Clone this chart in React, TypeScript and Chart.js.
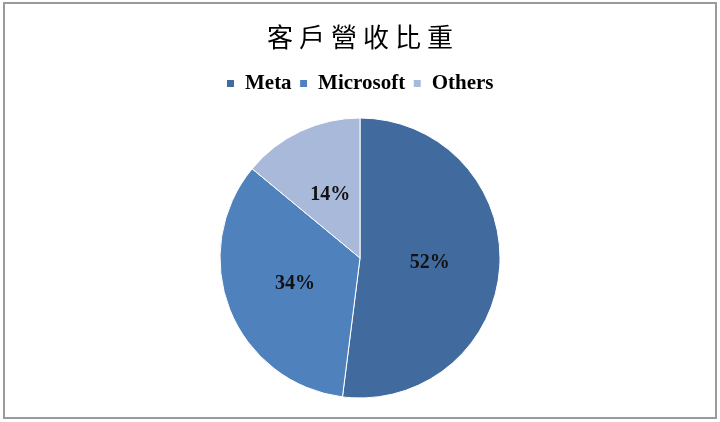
import React, { useEffect, useRef } from "react";
import { Chart, registerables } from "chart.js";

Chart.register(...registerables);

const TITLE = "客戶營收比重";
const categories = ["Meta", "Microsoft", "Others"];
const shares = [52, 34, 14];
const sliceColors = ["#416a9e", "#4f81bd", "#a9b9d9"];

const sliceLabelPlugin = {
  id: "sliceLabels",
  afterDatasetsDraw(chart: any) {
    const ctx = chart.ctx;
    const meta = chart.getDatasetMeta(0);
    const data = chart.data.datasets[0].data as number[];
    const total = data.reduce((a, b) => a + b, 0);
    ctx.save();
    ctx.font = "bold 20px 'Liberation Serif'";
    ctx.fillStyle = "#111";
    ctx.textAlign = "center";
    ctx.textBaseline = "middle";
    meta.data.forEach((arc: any, i: number) => {
      const p = arc.getCenterPoint();
      ctx.fillText(Math.round((data[i] / total) * 100) + "%", p.x, p.y);
    });
    ctx.restore();
  },
};

export default function App() {
  const ref = useRef<HTMLCanvasElement | null>(null);

  useEffect(() => {
    if (!ref.current) return;
    const chart = new Chart(ref.current, {
      type: "pie",
      data: {
        labels: categories,
        datasets: [
          {
            data: shares,
            backgroundColor: sliceColors,
            borderColor: "#ffffff",
            borderWidth: 1,
            radius: 140,
          } as any,
        ],
      },
      options: {
        responsive: false,
        animation: false,
        layout: { padding: { top: 65, bottom: 10, left: 0, right: 0 } },
        plugins: {
          title: { display: false },
          tooltip: { enabled: false },
          legend: {
            display: true,
            position: "top",
            labels: {
              boxWidth: 8,
              boxHeight: 8,
              padding: 8,
              color: "#000",
              font: { family: "'Liberation Serif'", size: 21, weight: "bold" },
            },
          },
        },
      } as any,
      plugins: [sliceLabelPlugin],
    });
    return () => chart.destroy();
  }, []);

  return (
    <div
      style={{
        position: "fixed",
        left: 0,
        top: 0,
        width: 720,
        height: 422,
        background: "#fff",
      }}
    >
      <canvas
        ref={ref}
        width={720}
        height={422}
        style={{ position: "absolute", left: 0, top: 0, width: 720, height: 422 }}
      />
      <div
        style={{
          position: "absolute",
          left: 0,
          top: 20,
          width: 720,
          boxSizing: "border-box",
          paddingLeft: 6,
          textAlign: "center",
          fontFamily: "'Noto Sans CJK TC', sans-serif",
          fontSize: 26,
          lineHeight: "32px",
          letterSpacing: "6px",
          color: "#000",
        }}
      >
        {TITLE}
      </div>
      <div
        style={{
          position: "absolute",
          left: 3,
          top: 2,
          width: 714,
          height: 417,
          boxSizing: "border-box",
          border: "2px solid #9a9a9a",
          pointerEvents: "none",
        }}
      />
    </div>
  );
}
